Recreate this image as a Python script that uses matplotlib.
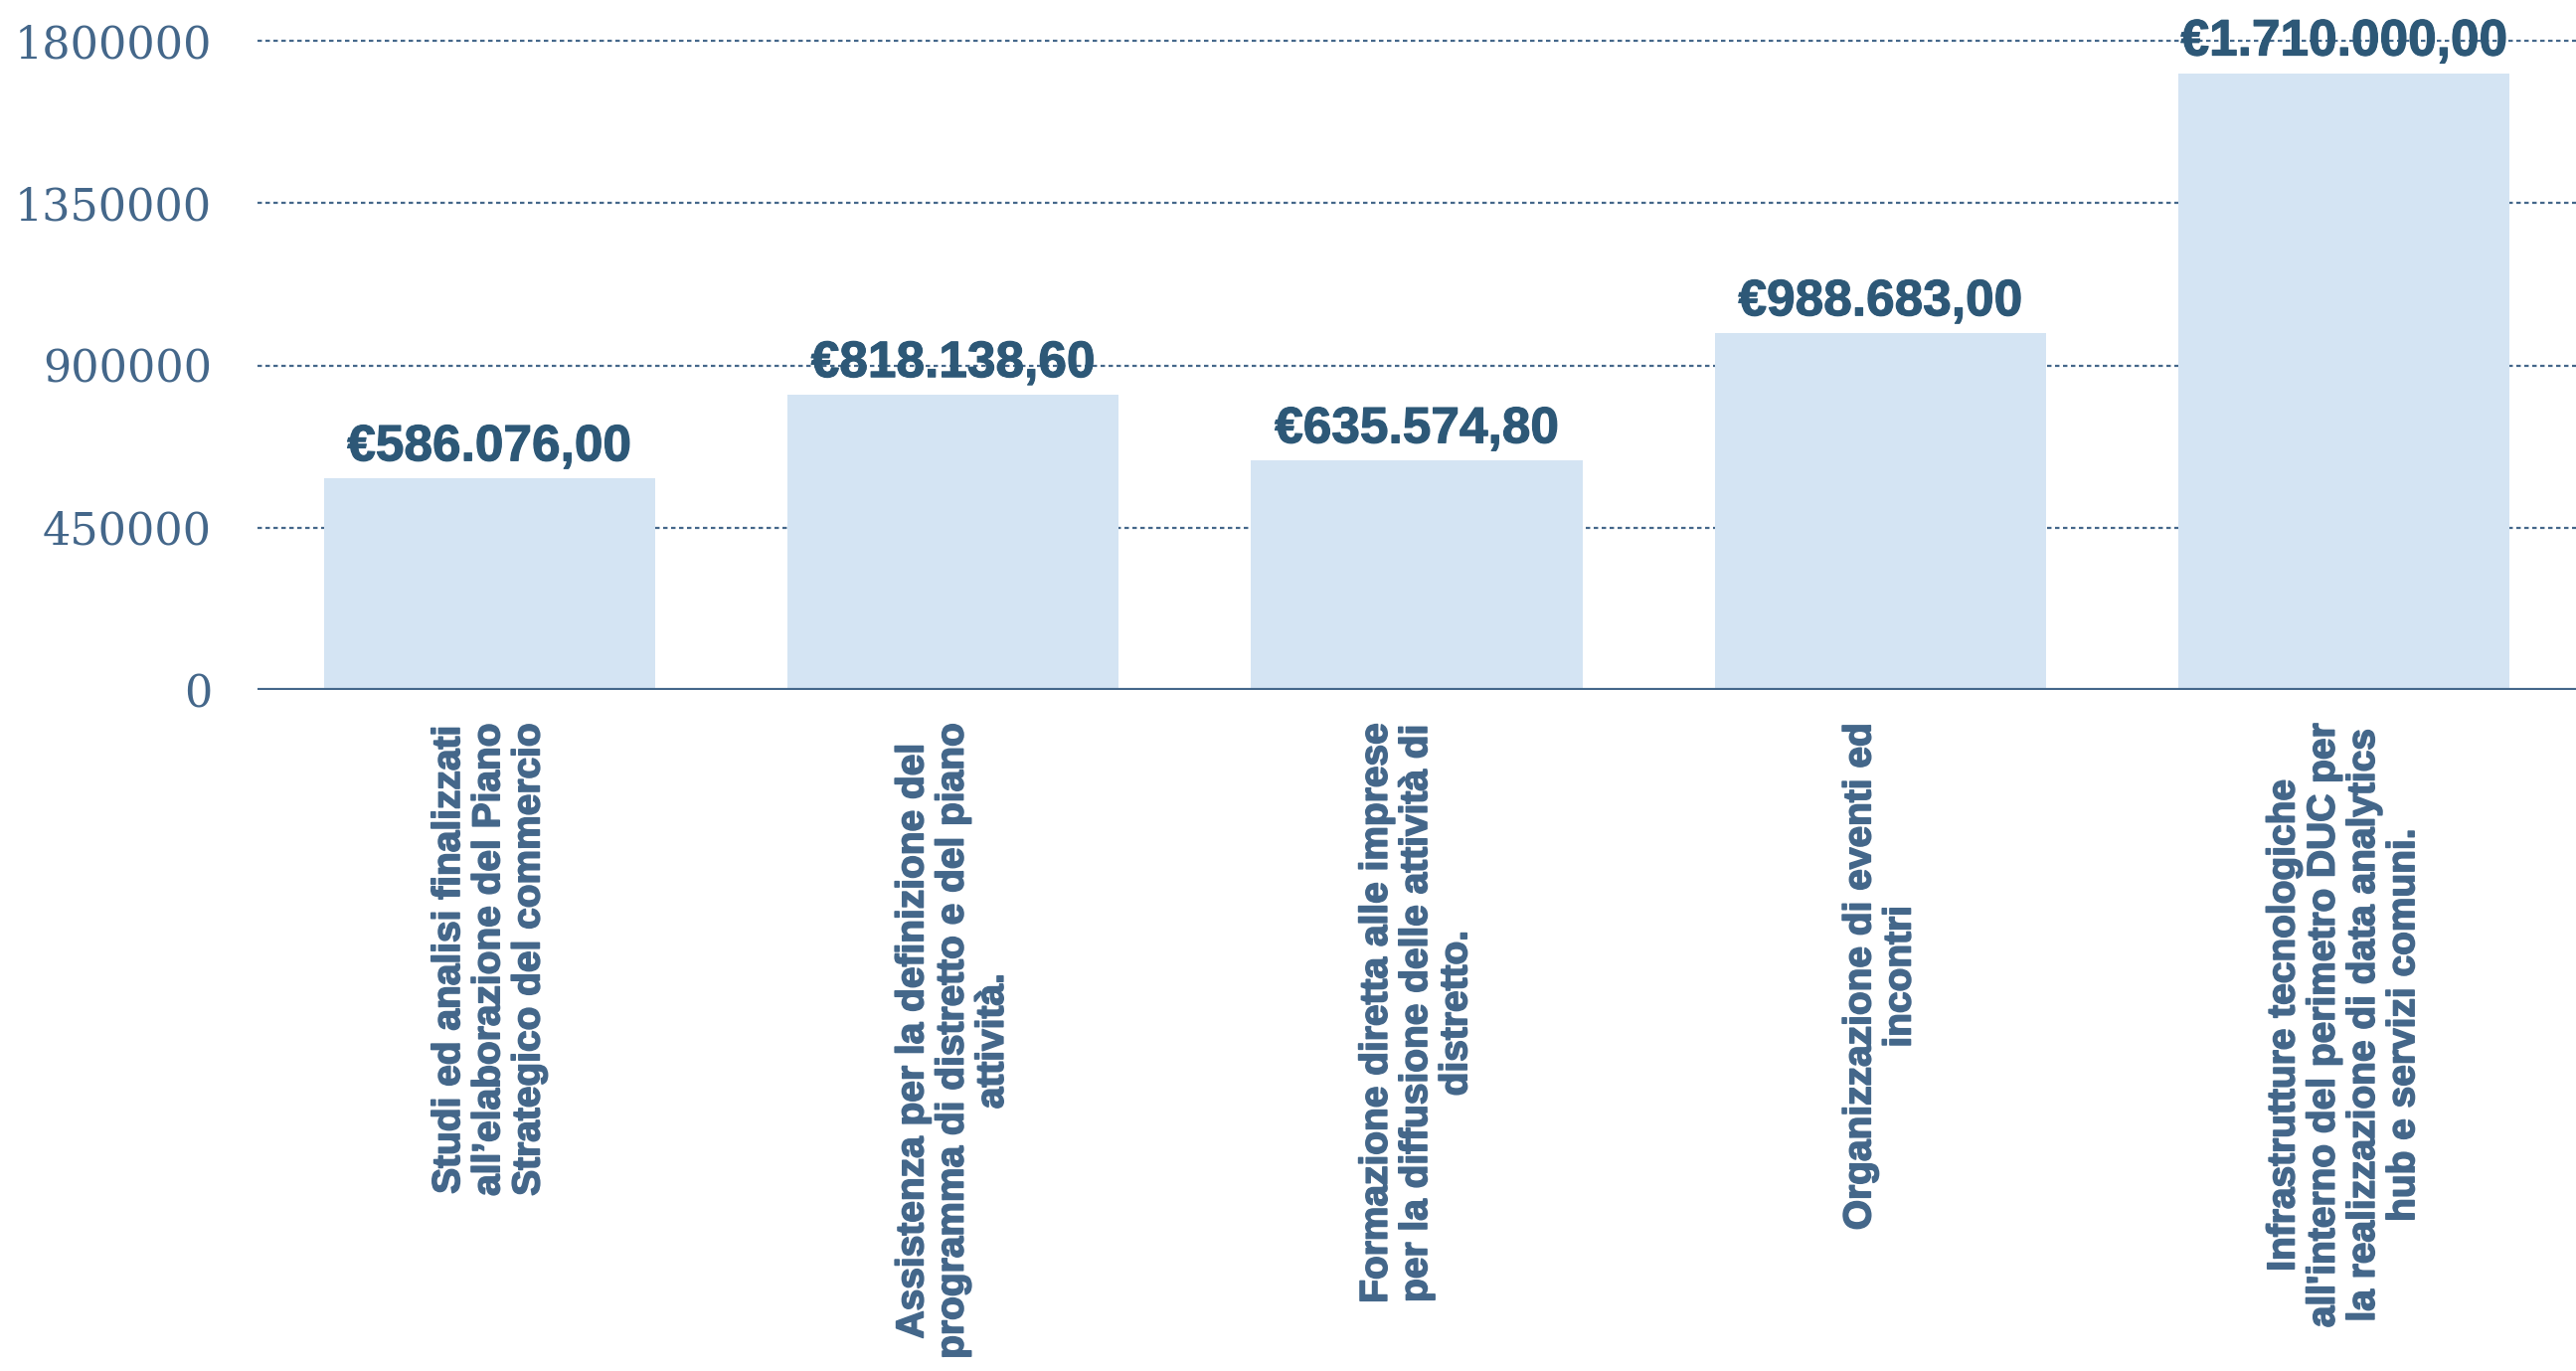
import matplotlib.pyplot as plt
import matplotlib.patheffects as pe

# Chart data
categories = [
    "Studi ed analisi finalizzati\nall’elaborazione del Piano\nStrategico del commercio",
    "Assistenza per la definizione del\nprogramma di distretto e del piano\nattività.",
    "Formazione diretta alle imprese\nper la diffusione delle attività di\ndistretto.",
    "Organizzazione di eventi ed\nincontri",
    "Infrastrutture tecnologiche\nall'interno del perimetro DUC per\nla realizzazione di data analytics\nhub e servizi comuni.",
]
values = [586076.00, 818138.60, 635574.80, 988683.00, 1710000.00]
value_labels = ["€586.076,00", "€818.138,60", "€635.574,80", "€988.683,00", "€1.710.000,00"]
y_ticks = [0, 450000, 900000, 1350000, 1800000]

bar_color = "#d4e4f3"
text_color = "#44678a"
label_color = "#2d5877"

fig = plt.figure(figsize=(25.91, 13.79), dpi=100)
ax = fig.add_axes([259 / 2591, 1 - 694 / 1379, 1 - 259 / 2591, 694 / 1379])

x = list(range(len(values)))
ax.bar(x, values, width=0.714, color=bar_color, zorder=2)

for xi, v, lab in zip(x, values, value_labels):
    ax.annotate(lab, (xi, v), xytext=(0, 13), textcoords="offset points",
                ha="center", va="baseline", fontsize=37, fontweight="bold",
                family="Liberation Sans", color=label_color, zorder=4,
                path_effects=[pe.withStroke(linewidth=0.8, foreground=label_color)])

ax.set_xlim(-0.5, 4.5)
ax.set_ylim(0, 1800000 * 694 / 653)

ax.set_yticks(y_ticks)
ax.set_yticklabels([str(t) for t in y_ticks], family="DejaVu Serif",
                   fontsize=32, color=text_color)
ax.tick_params(axis="y", length=0, pad=33)

ax.set_xticks(x)
ax.set_xticklabels(categories, rotation=90, fontsize=28, fontweight="bold",
                   family="Liberation Sans", color=text_color,
                   multialignment="center", linespacing=1.15)
ax.tick_params(axis="x", length=0, pad=24)
for t in ax.get_xticklabels():
    t.set_path_effects([pe.withStroke(linewidth=1.2, foreground=text_color)])

# dotted grid, solid baseline
for t in y_ticks[1:]:
    ax.axhline(t, color=text_color, linestyle=(0, (2, 1.6)), linewidth=1.6, zorder=1)
ax.axhline(0, color=text_color, linewidth=3, zorder=3)

for s in ax.spines.values():
    s.set_visible(False)

fig.savefig("out.png", dpi=100)
